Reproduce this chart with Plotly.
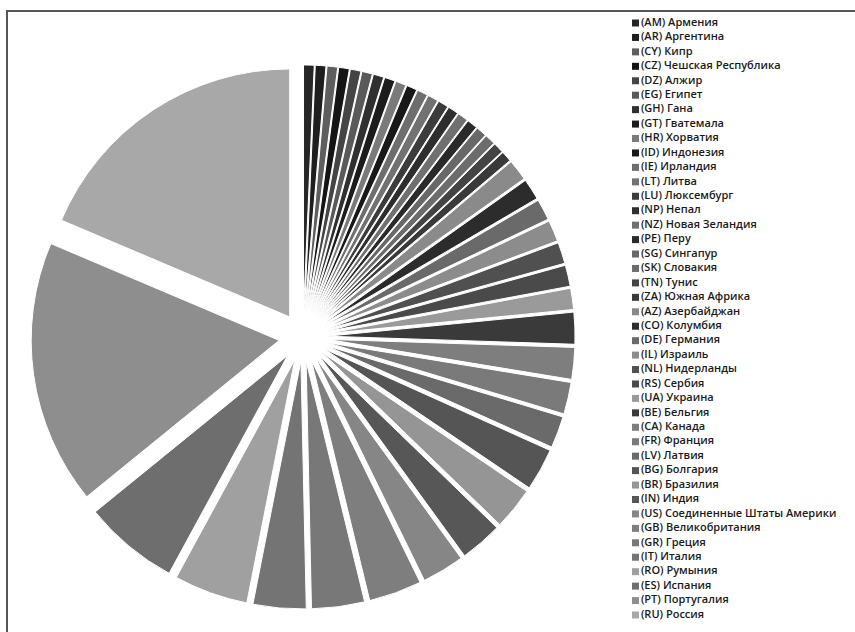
import plotly.graph_objects as go

# ---- data ----
codes = ["AM", "AR", "CY", "CZ", "DZ", "EG", "GH", "GT", "HR", "ID",
         "IE", "LT", "LU", "NP", "NZ", "PE", "SG", "SK", "TN", "ZA",
         "AZ", "CO", "DE", "IL", "NL", "RS", "UA",
         "BE", "CA", "FR", "LV",
         "BG", "BR", "IN", "US",
         "GB", "GR", "IT",
         "RO", "ES", "PT", "RU"]
names = ["Армения", "Аргентина", "Кипр", "Чешская Республика", "Алжир", "Египет",
         "Гана", "Гватемала", "Хорватия", "Индонезия", "Ирландия", "Литва",
         "Люксембург", "Непал", "Новая Зеландия", "Перу", "Сингапур", "Словакия",
         "Тунис", "Южная Африка",
         "Азербайджан", "Колумбия", "Германия", "Израиль", "Нидерланды", "Сербия", "Украина",
         "Бельгия", "Канада", "Франция", "Латвия",
         "Болгария", "Бразилия", "Индия", "Соединенные Штаты Америки",
         "Великобритания", "Греция", "Италия",
         "Румыния", "Испания", "Португалия", "Россия"]
values = [1] * 20 + [2] * 7 + [3] * 4 + [4] * 4 + [5] * 3 + [7, 9, 25, 27]

labels = [f"({c}) {n}" for c, n in zip(codes, names)]

# ---- styles ----
colors = ["#262626", "#1e1e1e", "#5e5e5e", "#141414", "#454545", "#5a5a5a",
          "#303030", "#1c1c1c", "#7a7a7a", "#181818", "#6e6e6e", "#727272",
          "#3c3c3c", "#2e2e2e", "#707070", "#2a2a2a", "#686868", "#6c6c6c",
          "#444444", "#3a3a3a",
          "#8a8a8a", "#2c2c2c", "#6a6a6a", "#8c8c8c", "#505050", "#4a4a4a", "#9a9a9a",
          "#3a3a3a", "#7e7e7e", "#7a7a7a", "#6a6a6a",
          "#555555", "#959595", "#575757", "#868686",
          "#7e7e7e", "#787878", "#747474",
          "#a0a0a0", "#6e6e6e", "#8e8e8e", "#a8a8a8"]
pull_frac = 0.097
pulls = [pull_frac] * len(codes)

W, H = 855, 632
cx, cy, R = 303, 337, 248
half = R * (1 + max(pulls))

fig = go.Figure()
fig.add_trace(go.Pie(
    labels=labels, values=values, sort=False, direction="clockwise", rotation=0,
    pull=pulls, textinfo="none", showlegend=False,
    marker=dict(colors=colors, line=dict(color="white", width=1)),
    domain=dict(x=[(cx - half) / W, (cx + half) / W],
                y=[(H - cy - half) / H, (H - cy + half) / H]),
))

# legend drawn as a scatter on its own axes
idx = list(range(len(labels)))
fig.add_trace(go.Scatter(
    x=[0] * len(labels), y=idx, mode="markers+text", text=labels,
    textposition="middle right", cliponaxis=False,
    marker=dict(symbol="square", size=7, color=colors, line=dict(width=0)),
    textfont=dict(family="Open Sans", size=11, color="#1a1a1a", weight=600),
    xaxis="x2", yaxis="y2", showlegend=False, hoverinfo="text",
))

row0, step = 23, (615 - 23) / 41
fig.update_layout(
    width=W, height=H, margin=dict(l=0, r=0, t=0, b=0),
    paper_bgcolor="white", plot_bgcolor="rgba(0,0,0,0)",
    xaxis2=dict(domain=[635.5 / W, 1], range=[0, 1], visible=False, fixedrange=True),
    yaxis2=dict(domain=[0, 1], range=[(H - row0) / step, -row0 / step],
                visible=False, fixedrange=True, anchor="x2"),
    shapes=[dict(type="rect", xref="paper", yref="paper",
                 x0=7 / W, x1=1.05, y0=-0.05, y1=1 - 11 / H,
                 line=dict(color="#555555", width=2))],
)
fig.write_html("out.html")
